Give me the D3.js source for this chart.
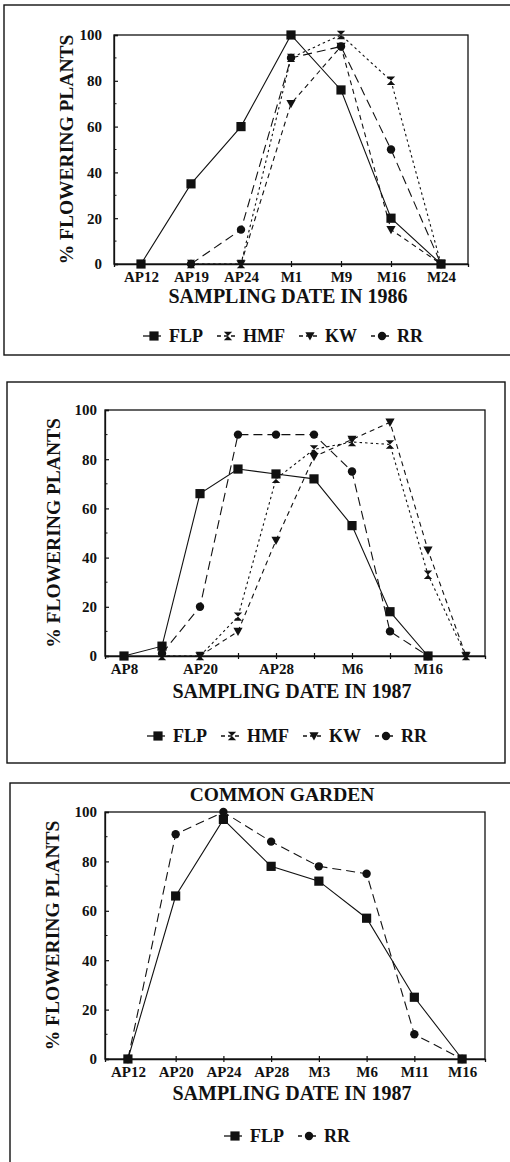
<!DOCTYPE html>
<html>
<head>
<meta charset="utf-8">
<script src="https://cdn.jsdelivr.net/npm/d3@7"></script>
<style>
  body { margin: 0; background: #fff; }
</style>
</head>
<body>
<div id="chart"></div>
<script>
// 1986 field populations
const dates1986 = ["AP12", "AP19", "AP24", "M1", "M9", "M16", "M24"];
const flp1986 = [0, 35, 60, 100, 76, 20, 0];
const hmf1986 = [null, 0, 0, 90, 100, 80, 0];
const kw1986 = [null, null, 0, 70, 95, 15, 0];
const rr1986 = [null, 0, 15, 90, 95, 50, 0];

// 1987 field populations (only every other date is labelled)
const dates1987 = ["AP8", "", "AP20", "", "AP28", "", "M6", "", "M16", ""];
const flp1987 = [0, 4, 66, 76, 74, 72, 53, 18, 0, null];
const hmf1987 = [null, 0, 0, 16, 72, 84, 87, 86, 33, 0];
const kw1987 = [null, null, 0, 10, 47, 81, 88, 95, 43, 0];
const rr1987 = [null, 1, 20, 90, 90, 90, 75, 10, 0, null];

// 1987 common garden
const datesGarden = ["AP12", "AP20", "AP24", "AP28", "M3", "M6", "M11", "M16"];
const flpGarden = [0, 66, 97, 78, 72, 57, 25, 0];
const rrGarden = [0, 91, 100, 88, 78, 75, 10, 0];

const yTicks = [0, 20, 40, 60, 80, 100];
const yMinorTicks = [10, 30, 50, 70, 90];

const fontFamily = "'Liberation Serif', 'Times New Roman', serif";
const ink = "#111";

const W = 510, H = 1162;

const svg = d3.select("#chart").append("svg")
  .attr("width", W)
  .attr("height", H)
  .style("font-family", fontFamily)
  .style("background", "#fff");

// marker shapes
function hourglass(h) {
  return `M${-h},${-h}H${h}L${-h},${h}H${h}Z`;
}
function triDown(h) {
  return `M${-h},${-h * 0.8}H${h}L0,${h}Z`;
}
function square(h) {
  return `M${-h},${-h}H${h}V${h}H${-h}Z`;
}
function circle(r) {
  return d3.symbol(d3.symbolCircle, Math.PI * r * r)();
}

const styles = {
  FLP: { path: square(4.6), dash: null },
  HMF: { path: hourglass(4.2), dash: "2.5,3" },
  KW: { path: triDown(4.6), dash: "5,4" },
  RR: { path: circle(4.2), dash: "9,5" }
};

function drawPanel(cfg) {
  const g = svg.append("g");

  // outer box
  if (cfg.frame) {
    g.append("rect")
      .attr("x", cfg.frame.x).attr("y", cfg.frame.y)
      .attr("width", cfg.frame.w).attr("height", cfg.frame.h)
      .attr("fill", "none").attr("stroke", ink).attr("stroke-width", 1.4);
  }

  const x = d3.scalePoint()
    .domain(d3.range(cfg.dates.length))
    .range([cfg.left, cfg.right])
    .padding(cfg.pad);

  const y = d3.scaleLinear()
    .domain([0, 100])
    .range([cfg.bottom, cfg.top]);

  // plot box
  g.append("rect")
    .attr("x", cfg.left).attr("y", cfg.top)
    .attr("width", cfg.right - cfg.left).attr("height", cfg.bottom - cfg.top)
    .attr("fill", "none").attr("stroke", ink).attr("stroke-width", 1.3);

  // y axis
  const yAxis = g.append("g")
    .attr("transform", `translate(${cfg.left},0)`)
    .call(d3.axisLeft(y).tickValues(yTicks).tickSize(-4).tickPadding(cfg.labelGap));
  yAxis.select(".domain").attr("stroke", ink).attr("stroke-width", 1.3);
  yAxis.selectAll(".tick line").attr("stroke", ink).attr("stroke-width", 1.2);
  yAxis.selectAll("text")
    .attr("font-family", fontFamily).attr("font-size", 15)
    .attr("font-weight", "bold").attr("fill", ink);

  g.append("g")
    .selectAll("line")
    .data(yMinorTicks)
    .join("line")
    .attr("x1", cfg.left).attr("x2", cfg.left + 2.5)
    .attr("y1", d => y(d)).attr("y2", d => y(d))
    .attr("stroke", ink).attr("stroke-width", 1);

  // x axis
  const xAxis = g.append("g")
    .attr("transform", `translate(0,${cfg.bottom})`)
    .call(d3.axisBottom(x).tickSize(3).tickPadding(4.3).tickFormat(i => cfg.dates[i]));
  xAxis.select(".domain").attr("stroke", ink).attr("stroke-width", 1.3);
  xAxis.selectAll(".tick line").attr("y1", -3).attr("y2", 3)
    .attr("stroke", ink).attr("stroke-width", 1.2);
  xAxis.selectAll("text")
    .attr("font-family", fontFamily).attr("font-size", 15)
    .attr("font-weight", "bold").attr("fill", ink);

  // axis titles
  g.append("text")
    .attr("x", (cfg.left + cfg.right) / 2 - 3)
    .attr("y", cfg.bottom + cfg.xTitleGap)
    .attr("text-anchor", "middle")
    .attr("font-size", 20).attr("font-weight", "bold").attr("fill", ink)
    .text(cfg.xTitle);

  g.append("text")
    .attr("transform", `translate(${cfg.yTitleX},${(cfg.top + cfg.bottom) / 2}) rotate(-90)`)
    .attr("text-anchor", "middle")
    .attr("dominant-baseline", "central")
    .attr("font-size", 19.5).attr("font-weight", "bold").attr("fill", ink)
    .text("% FLOWERING PLANTS");

  if (cfg.title) {
    g.append("text")
      .attr("x", (cfg.left + cfg.right) / 2 - 13)
      .attr("y", cfg.top - 11)
      .attr("text-anchor", "middle")
      .attr("font-size", 19.5).attr("font-weight", "bold").attr("fill", ink)
      .text(cfg.title);
  }

  // series
  const line = d3.line()
    .defined(d => d.v !== null)
    .x(d => x(d.i))
    .y(d => y(d.v));

  cfg.series.forEach(s => {
    const st = styles[s.name];
    const pts = s.values.map((v, i) => ({ i, v }));
    g.append("path")
      .datum(pts)
      .attr("d", line)
      .attr("fill", "none")
      .attr("stroke", ink)
      .attr("stroke-width", 1.1)
      .attr("stroke-dasharray", st.dash);
    g.append("g")
      .selectAll("path")
      .data(pts.filter(d => d.v !== null))
      .join("path")
      .attr("transform", d => `translate(${x(d.i)},${y(d.v)})`)
      .attr("d", st.path)
      .attr("fill", ink);
  });

  // legend
  const leg = g.append("g");
  let cx = 0;
  cfg.series.forEach((s, k) => {
    const st = styles[s.name];
    const item = leg.append("g").attr("transform", `translate(${cx},0)`);
    item.append("line")
      .attr("x1", 0).attr("x2", 18)
      .attr("y1", -6).attr("y2", -6)
      .attr("stroke", ink).attr("stroke-width", 1.3)
      .attr("stroke-dasharray", st.dash ? "4,3" : null);
    item.append("path")
      .attr("transform", "translate(11,-6)")
      .attr("d", st.path)
      .attr("fill", ink);
    const t = item.append("text")
      .attr("x", 26).attr("y", 0)
      .attr("font-size", 18).attr("font-weight", "bold").attr("fill", ink)
      .text(s.name);
    cx += 26 + t.node().getComputedTextLength() + 14;
  });
  const legW = cx - 14;
  leg.attr("transform", `translate(${cfg.legendCX - legW / 2},${cfg.legendY})`);
}

drawPanel({
  dates: dates1986,
  series: [
    { name: "FLP", values: flp1986 },
    { name: "HMF", values: hmf1986 },
    { name: "KW", values: kw1986 },
    { name: "RR", values: rr1986 }
  ],
  left: 114, right: 468, top: 35, bottom: 264, pad: 0.54,
  labelGap: 12, yTitleX: 66, xTitleGap: 39,
  xTitle: "SAMPLING DATE IN 1986",
  legendCX: 283, legendY: 342,
  frame: { x: 4, y: 5, w: 520, h: 350 }
});

drawPanel({
  dates: dates1987,
  series: [
    { name: "FLP", values: flp1987 },
    { name: "HMF", values: hmf1987 },
    { name: "KW", values: kw1987 },
    { name: "RR", values: rr1987 }
  ],
  left: 105, right: 485, top: 410, bottom: 656, pad: 0.5,
  labelGap: 8, yTitleX: 53, xTitleGap: 42,
  xTitle: "SAMPLING DATE IN 1987",
  legendCX: 287, legendY: 742,
  frame: { x: 7, y: 382, w: 498, h: 381 }
});

drawPanel({
  dates: datesGarden,
  series: [
    { name: "FLP", values: flpGarden },
    { name: "RR", values: rrGarden }
  ],
  left: 105, right: 485, top: 812, bottom: 1059, pad: 0.48,
  labelGap: 8, yTitleX: 52, xTitleGap: 41,
  xTitle: "SAMPLING DATE IN 1987",
  title: "COMMON GARDEN",
  legendCX: 287, legendY: 1142,
  frame: { x: 10, y: 783, w: 520, h: 400 }
});
</script>
</body>
</html>
